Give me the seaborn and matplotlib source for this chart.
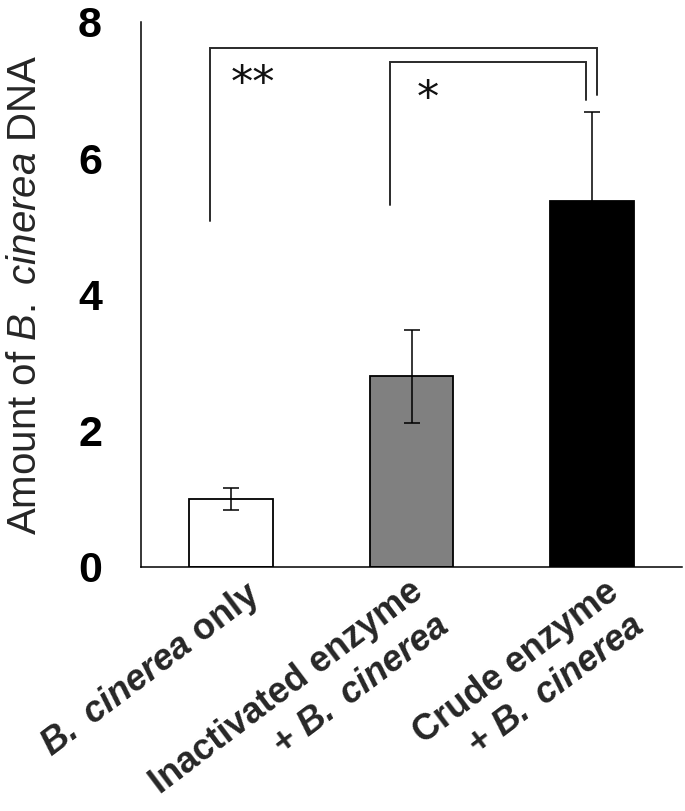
import matplotlib
matplotlib.use("Agg")
import matplotlib.pyplot as plt
import seaborn as sns
import pandas as pd
from matplotlib.transforms import ScaledTranslation

sns.set_theme(style="white")
plt.rcParams['font.family'] = ['Liberation Sans', 'DejaVu Sans']
plt.rcParams['mathtext.fontset'] = 'custom'
plt.rcParams['mathtext.rm'] = 'Liberation Sans'
plt.rcParams['mathtext.it'] = 'Liberation Sans:italic'
plt.rcParams['mathtext.bf'] = 'Liberation Sans:bold'
plt.rcParams['mathtext.bfit'] = 'Liberation Sans:italic:bold'

# ---- data ----
categories = ["B. cinerea only",
              "Inactivated enzyme + B. cinerea",
              "Crude enzyme + B. cinerea"]
tick_labels = [r"$\mathbfit{B.\ cinerea}$ only",
               "Inactivated enzyme\n" + r"+ $\mathbfit{B.\ cinerea}$",
               "Crude enzyme\n" + r"+ $\mathbfit{B.\ cinerea}$"]
values = [1.00, 2.80, 5.37]
errors = [0.16, 0.68, 1.31]
bar_colors = ["#ffffff", "#808080", "#000000"]
y_ticks = [0, 2, 4, 6, 8]

# significance brackets: (left x, right x, top y, left leg bottom, right leg bottom)
bracket_left = [-0.12, 0.88]
bracket_right = [2.03, 1.97]
bracket_top = [7.62, 7.41]
bracket_left_bottom = [5.08, 5.31]
bracket_right_bottom = [6.93, 6.86]
star_labels = ["**", "*"]
star_x = [0.12, 1.09]
star_y = [7.08, 6.86]

# horizontal nudge of each category label (inches)
label_nudge = [0.14, -0.03, 0.12]

df = pd.DataFrame({"category": categories, "value": values})

fig = plt.figure(figsize=(6.85, 8.11), dpi=100)
ax = fig.add_axes([141/685, 1 - 567/811, 541/685, 545/811])

sns.barplot(data=df, x="category", y="value", hue="category",
            palette=bar_colors, edgecolor="black", linewidth=1.3,
            width=0.465, legend=False, errorbar=None, ax=ax)

xs = [p.get_x() + p.get_width() / 2 for p in ax.patches]
ax.errorbar(xs, values, yerr=errors, fmt="none", ecolor="black",
            elinewidth=1.1, capsize=5.5, capthick=1.1, zorder=3)

# brackets
for l, r, t, lb, rb in zip(bracket_left, bracket_right, bracket_top,
                           bracket_left_bottom, bracket_right_bottom):
    ax.plot([l, l, r, r], [lb, t, t, rb], color="#2a2a2a", lw=1.4,
            solid_joinstyle="miter", clip_on=False)
for s, x, y in zip(star_labels, star_x, star_y):
    ax.text(x, y, s, ha="center", va="center", fontsize=32,
            family="DejaVu Sans", color="#111111")

ax.set_xlim(-0.5, 2.5)
ax.set_ylim(0, 8)
ax.set_yticks(y_ticks)
ax.set_yticklabels([str(v) for v in y_ticks], fontsize=31, fontweight="bold")
ax.set_xticks([0.5, 1.5, 2.5])
ax.set_xticklabels([])

# category labels, rotated, placed under each bar
for x, lab, dx in zip(range(len(tick_labels)), tick_labels, label_nudge):
    tf = ax.get_xaxis_transform() + ScaledTranslation(dx, -0.07, fig.dpi_scale_trans)
    ax.text(x, 0, lab, transform=tf, fontsize=26, fontweight="bold",
            rotation=37, ha="right", va="top", rotation_mode="anchor",
            linespacing=1.3, clip_on=False)

ax.tick_params(axis="y", direction="in", length=10, width=1.1, pad=28, colors="black")
ax.tick_params(axis="x", which="major", direction="in", length=10, width=1.1)

ax.set_xlabel("")
ax.set_ylabel(r"Amount of $\mathit{B.\ cinerea}$ DNA", fontsize=29)
ax.yaxis.set_label_coords(-0.18, 0.5)

for side in ["top", "right"]:
    ax.spines[side].set_visible(False)
for side in ["left", "bottom"]:
    ax.spines[side].set_color("black")
    ax.spines[side].set_linewidth(1.1)

fig.savefig("out.png", dpi=100, facecolor="white")
